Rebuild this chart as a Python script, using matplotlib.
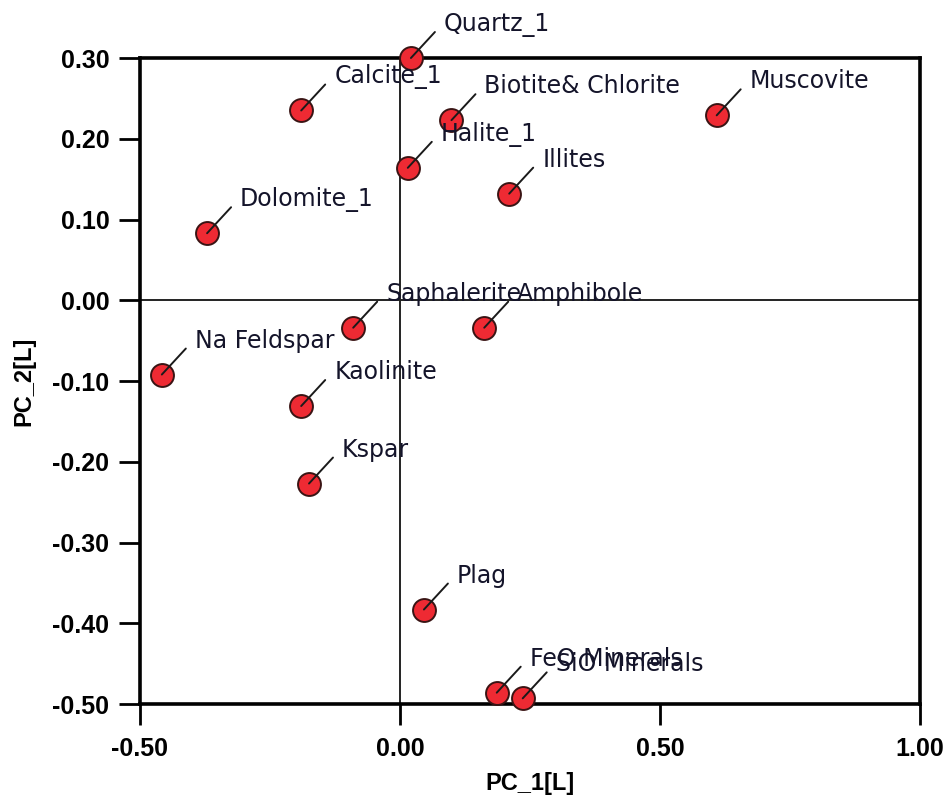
import matplotlib
matplotlib.use("Agg")
import matplotlib.pyplot as plt

# PCA loadings of the mineral variables
minerals = ["Quartz_1", "Calcite_1", "Biotite& Chlorite", "Muscovite", "Halite_1",
            "Illites", "Dolomite_1", "Saphalerite", "Amphibole", "Na Feldspar",
            "Kaolinite", "Kspar", "Plag", "FeO Minerals", "SiO Minerals"]
pc1 = [0.021, -0.190, 0.099, 0.609, 0.015, 0.210, -0.371, -0.090, 0.162, -0.458,
       -0.190, -0.175, 0.046, 0.186, 0.236]
pc2 = [0.300, 0.235, 0.223, 0.229, 0.164, 0.132, 0.083, -0.034, -0.034, -0.092,
       -0.131, -0.227, -0.383, -0.486, -0.493]

x_ticks = [-0.5, 0.0, 0.5, 1.0]
y_ticks = [0.3, 0.2, 0.1, 0.0, -0.1, -0.2, -0.3, -0.4, -0.5]

fig = plt.figure(figsize=(9.45, 7.96), dpi=100)
ax = fig.add_axes([140 / 945, 1 - 704 / 796, (920 - 140) / 945, (704 - 58) / 796])

ax.set_xlim(-0.5, 1.0)
ax.set_ylim(-0.5, 0.3)

# origin cross lines
ax.axhline(0, color="#222222", lw=1.4, zorder=1)
ax.axvline(0, color="#222222", lw=1.4, zorder=1)

ax.plot(pc1, pc2, "o", ms=16.5, mfc="#ee2a33", mec="#3a1414", mew=1.4,
        clip_on=False, zorder=5, linestyle="none")

for name, x, y in zip(minerals, pc1, pc2):
    ax.annotate("", xy=(x, y), xytext=(24, 26), textcoords="offset pixels",
                arrowprops=dict(arrowstyle="-", color="#1a1a1a", lw=1.4,
                                shrinkA=0, shrinkB=0),
                annotation_clip=False, zorder=6)
    ax.annotate(name, xy=(x, y), xytext=(33, 27), textcoords="offset pixels",
                ha="left", va="baseline", fontsize=17, family="DejaVu Sans",
                color="#14142a", annotation_clip=False, zorder=7)

for s in ax.spines.values():
    s.set_linewidth(2.6)
    s.set_color("black")

ax.set_xticks(x_ticks)
ax.set_yticks(y_ticks)
ax.set_xticklabels([f"{v:.2f}" for v in x_ticks])
ax.set_yticklabels([f"{v:.2f}" for v in y_ticks])
ax.tick_params(axis="both", direction="out", length=15, width=2, color="black")
ax.tick_params(axis="x", pad=9)
ax.tick_params(axis="y", pad=7)
for lab in ax.get_xticklabels() + ax.get_yticklabels():
    lab.set_fontfamily("Liberation Sans")
    lab.set_fontweight("bold")
    lab.set_fontsize(18)

ax.set_xlabel("PC_1[L]", fontfamily="Liberation Sans", fontweight="bold",
              fontsize=17, labelpad=8)
ax.set_ylabel("PC_2[L]", fontfamily="Liberation Sans", fontweight="bold",
              fontsize=17, labelpad=12)

fig.savefig("out.png", dpi=100)
